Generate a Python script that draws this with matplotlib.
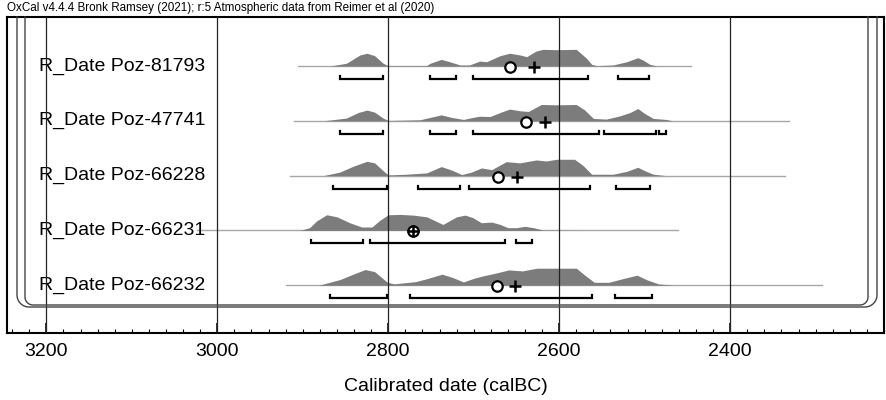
import numpy as np
import matplotlib.pyplot as plt
from matplotlib.ticker import MultipleLocator
from matplotlib.lines import Line2D

plt.rcParams['font.family'] = ['Liberation Sans', 'DejaVu Sans']

labels = ['R_Date Poz-81793', 'R_Date Poz-47741', 'R_Date Poz-66228',
          'R_Date Poz-66231', 'R_Date Poz-66232']

# calibrated probability curves: year (calBC) and relative height
yr_81793 = [2868, 2849, 2833, 2825, 2816, 2806, 2800, 2755, 2751, 2738, 2728, 2716,
            2705, 2693, 2685, 2669, 2658, 2646, 2638, 2627, 2619, 2603, 2580, 2568,
            2562, 2556, 2537, 2521, 2508, 2502, 2494, 2486]
p_81793 = [0, 0.16, 0.65, 0.75, 0.61, 0.16, 0.02, 0.03, 0.16, 0.39, 0.25, 0.06,
           0.06, 0.29, 0.25, 0.61, 0.75, 0.65, 0.55, 0.88, 0.98, 0.96, 0.98, 0.45,
           0.10, 0.02, 0.06, 0.25, 0.49, 0.35, 0.10, 0]

yr_47741 = [2876, 2849, 2835, 2825, 2816, 2806, 2800, 2763, 2751, 2738, 2726, 2712,
            2701, 2693, 2681, 2669, 2658, 2646, 2636, 2621, 2603, 2580, 2570, 2560,
            2545, 2529, 2517, 2508, 2500, 2490, 2475, 2467]
p_47741 = [0, 0.16, 0.49, 0.63, 0.51, 0.16, 0.02, 0.06, 0.20, 0.35, 0.20, 0.08,
           0.20, 0.27, 0.25, 0.49, 0.69, 0.59, 0.55, 0.96, 0.94, 0.96, 0.63, 0.14,
           0.10, 0.29, 0.49, 0.72, 0.43, 0.14, 0.08, 0]

yr_66228 = [2876, 2857, 2841, 2825, 2816, 2806, 2800, 2779, 2755, 2738, 2726, 2714,
            2703, 2691, 2679, 2662, 2646, 2627, 2615, 2603, 2582, 2572, 2562, 2537,
            2521, 2508, 2500, 2490, 2475]
p_66228 = [0, 0.20, 0.55, 0.84, 0.75, 0.29, 0.04, 0.08, 0.16, 0.53, 0.33, 0.06,
           0.20, 0.45, 0.35, 0.82, 0.75, 0.92, 0.86, 0.96, 0.96, 0.59, 0.08, 0.08,
           0.25, 0.49, 0.29, 0.08, 0]

yr_66231 = [2903, 2892, 2884, 2872, 2860, 2845, 2831, 2819, 2810, 2800, 2786, 2771,
            2755, 2736, 2720, 2710, 2701, 2691, 2679, 2669, 2660, 2650, 2640, 2630,
            2619, 2576]
p_66231 = [0, 0.16, 0.55, 0.92, 0.80, 0.45, 0.20, 0.20, 0.59, 0.92, 0.94, 0.90,
           0.80, 0.35, 0.80, 0.90, 0.75, 0.45, 0.49, 0.35, 0.16, 0.16, 0.24, 0.16,
           0.02, 0]

yr_66232 = [2881, 2856, 2839, 2827, 2816, 2801, 2793, 2768, 2755, 2737, 2724, 2712,
            2699, 2689, 2676, 2659, 2643, 2626, 2609, 2580, 2570, 2559, 2542, 2526,
            2509, 2497, 2484, 2467]
p_66232 = [0, 0.34, 0.69, 0.92, 0.80, 0.17, 0.08, 0.21, 0.38, 0.65, 0.44, 0.19,
           0.42, 0.55, 0.69, 0.90, 0.84, 1.0, 1.0, 1.0, 0.59, 0.17, 0.17, 0.38,
           0.59, 0.31, 0.08, 0]

curves = [(yr_81793, p_81793), (yr_47741, p_47741), (yr_66228, p_66228),
          (yr_66231, p_66231), (yr_66232, p_66232)]

# 95.4% probability ranges (calBC)
ranges = [
    [(2857, 2806), (2751, 2721), (2701, 2566), (2531, 2495)],
    [(2857, 2806), (2751, 2721), (2701, 2553), (2547, 2487), (2483, 2475)],
    [(2865, 2802), (2765, 2716), (2706, 2564), (2533, 2494)],
    [(2890, 2830), (2821, 2663), (2651, 2632)],
    [(2868, 2801), (2775, 2562), (2535, 2492)],
]

# mean (o) and median (+)
mean_bc = [2658, 2639, 2671, 2771, 2673]
median_bc = [2630, 2617, 2649, 2771, 2652]

# extent of the thin likelihood line
line_from = [2905, 2910, 2915, 3024, 2920]
line_to = [2446, 2331, 2336, 2461, 2292]

W, H = 886, 400
fig = plt.figure(figsize=(W / 100, H / 100), dpi=100)
ax = fig.add_axes([7 / W, 67 / H, 877 / W, 316 / H])
ax.set_xlim(3246, 2220)
ax.set_ylim(333, 17)

base0, step, hscale = 66, 54.8, 17
for i, (yr, p) in enumerate(curves):
    base = base0 + i * step
    ax.plot([line_from[i], line_to[i]], [base, base], color='#a8a8a8', lw=1, zorder=1)
    ax.fill_between(yr, base, base - np.array(p) * hscale, color='#7c7c7c', lw=0, zorder=2)
    yb = base + 13
    for a, b in ranges[i]:
        ax.plot([a, a, b, b], [yb - 3, yb, yb, yb - 3], color='black', lw=1.6,
                solid_joinstyle='miter', zorder=4)
    ax.plot(mean_bc[i], base + 1, 'o', ms=7.5, mfc='white', mec='black', mew=1.6, zorder=5)
    ax.plot(median_bc[i], base + 1, '+', ms=8, color='black', mew=1.8, zorder=6)
    ax.text(3208, base, labels[i], fontsize=14, va='center', ha='left', zorder=3)

for x in range(2400, 3201, 200):
    ax.axvline(x, color='#222222', lw=0.9, zorder=3)

ax.xaxis.set_major_locator(MultipleLocator(200))
ax.xaxis.set_minor_locator(MultipleLocator(20))
ax.tick_params(axis='x', which='major', direction='in', length=7.5, width=1.1,
               labelsize=14, pad=7)
ax.tick_params(axis='x', which='minor', direction='in', length=3, width=0.8)
ax.tick_params(axis='y', left=False, labelleft=False)
for s in ax.spines.values():
    s.set_linewidth(1.5)
ax.set_xlabel('Calibrated date (calBC)', fontsize=14, labelpad=13)


# bracket lines around the group
def bracket(xl, xr, yb, r):
    t = np.linspace(0, np.pi / 2, 20)
    xs = np.concatenate([[xl], xl + r - r * np.cos(t), xr - r + r * np.sin(t), [xr]])
    ys = np.concatenate([[17], yb - r + r * np.sin(t), yb - r + r * np.cos(t), [17]])
    fig.add_artist(Line2D(xs / W, 1 - ys / H, color='#444444', lw=1,
                          transform=fig.transFigure))


bracket(17, 877, 307, 12)
bracket(25, 868, 305, 8)

fig.text(7 / W, 1 - 8 / H,
         'OxCal v4.4.4 Bronk Ramsey (2021); r:5 Atmospheric data from Reimer et al (2020)',
         fontsize=8.4, va='center', ha='left')

fig.savefig('out.png', dpi=100)
